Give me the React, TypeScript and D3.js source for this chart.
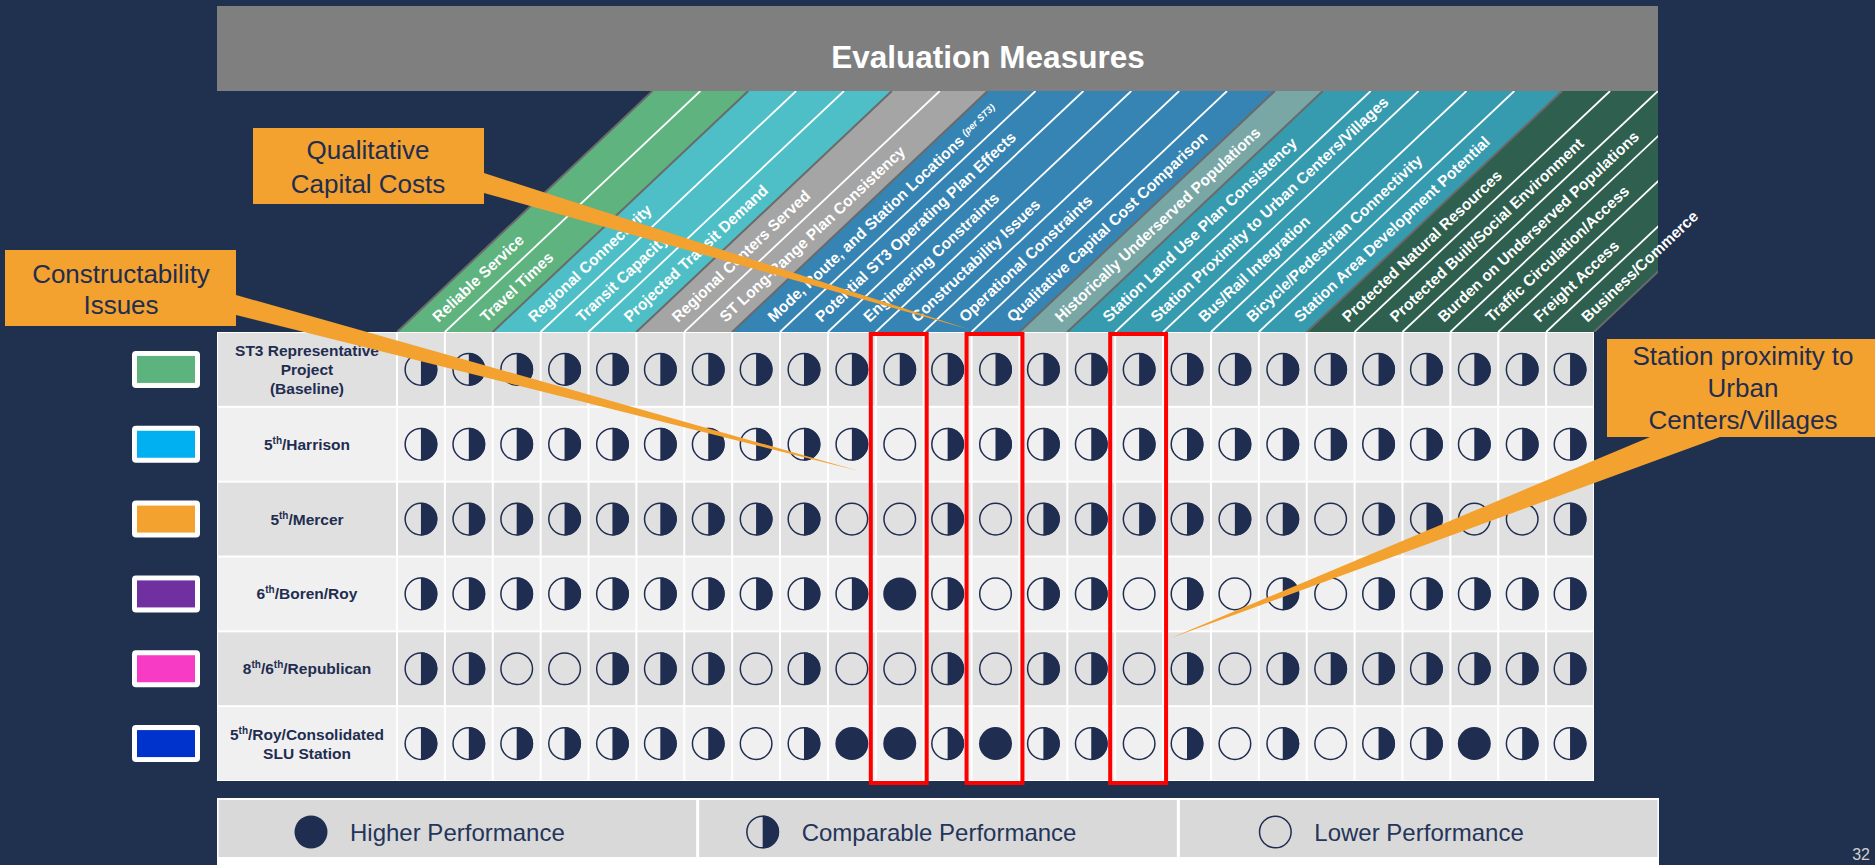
import React from 'react';
import * as d3 from 'd3';

// ---------- data ----------
const measures = [
  'Reliable Service',
  'Travel Times',
  'Regional Connectivity',
  'Transit Capacity',
  'Projected Transit Demand',
  'Regional Centers Served',
  'ST Long-Range Plan Consistency',
  'Mode, Route, and Station Locations',
  'Potential ST3 Operating Plan Effects',
  'Engineering Constraints',
  'Constructability Issues',
  'Operational Constraints',
  'Qualitative Capital Cost Comparison',
  'Historically Underserved Populations',
  'Station Land Use Plan Consistency',
  'Station Proximity to Urban Centers/Villages',
  'Bus/Rail Integration',
  'Bicycle/Pedestrian Connectivity',
  'Station Area Development Potential',
  'Protected Natural Resources',
  'Protected Built/Social Environment',
  'Burden on Underserved Populations',
  'Traffic Circulation/Access',
  'Freight Access',
  'Business/Commerce',
];
const measureNotes: Record<string, string> = {
  'Mode, Route, and Station Locations': '(per ST3)',
};
// which coloured band each measure sits in
const measureGroups = [0, 0, 1, 1, 1, 2, 2, 3, 3, 3, 3, 3, 3, 4, 5, 5, 5, 5, 5, 6, 6, 6, 6, 6, 6];

const alternatives = ['baseline', 'harrison', 'mercer', 'boren', 'republican', 'consolidated'];
const alternativeLabels = [
  ['ST3 Representative', 'Project', '(Baseline)'],
  ['5^th/Harrison'],
  ['5^th/Mercer'],
  ['6^th/Boren/Roy'],
  ['8^th/6^th/Republican'],
  ['5^th/Roy/Consolidated', 'SLU Station'],
];
const alternativeColors = ['#5db37e', '#00b0f0', '#f3a12f', '#7030a0', '#f73bc5', '#0033cc'];

// 2 = higher, 1 = comparable, 0 = lower performance
const ratingsBaseline = [1, 1, 1, 1, 1, 1, 1, 1, 1, 1, 1, 1, 1, 1, 1, 1, 1, 1, 1, 1, 1, 1, 1, 1, 1];
const ratingsHarrison = [1, 1, 1, 1, 1, 1, 1, 1, 1, 1, 0, 1, 1, 1, 1, 1, 1, 1, 1, 1, 1, 1, 1, 1, 1];
const ratingsMercer = [1, 1, 1, 1, 1, 1, 1, 1, 1, 0, 0, 1, 0, 1, 1, 1, 1, 1, 1, 0, 1, 1, 0, 0, 1];
const ratingsBoren = [1, 1, 1, 1, 1, 1, 1, 1, 1, 1, 2, 1, 0, 1, 1, 0, 1, 0, 1, 0, 1, 1, 1, 1, 1];
const ratingsRepublican = [1, 1, 0, 0, 1, 1, 1, 0, 1, 0, 0, 1, 0, 1, 1, 0, 1, 0, 1, 1, 1, 1, 1, 1, 1];
const ratingsConsolidated = [1, 1, 1, 1, 1, 1, 1, 0, 1, 2, 2, 1, 2, 1, 1, 0, 1, 0, 1, 0, 1, 1, 2, 1, 1];
const ratings = [
  ratingsBaseline,
  ratingsHarrison,
  ratingsMercer,
  ratingsBoren,
  ratingsRepublican,
  ratingsConsolidated,
];

const highlightedMeasures = [
  'Constructability Issues',
  'Qualitative Capital Cost Comparison',
  'Station Proximity to Urban Centers/Villages',
];

const legendRatings = [2, 1, 0];
const legendLabels = ['Higher Performance', 'Comparable Performance', 'Lower Performance'];

// ---------- layout / style ----------
const W = 1875;
const H = 865;
const FONT = '"Liberation Sans", Arial, sans-serif';
const BG = '#20304f';
const NAVY = '#1f2d50';
const ORANGE = '#f3a12f';
const groupColors = ['#5eb37e', '#4fbfc7', '#a5a5a5', '#3684b3', '#78a7a6', '#379bb0', '#2e5f4f'];

const LEFT = 217;
const RIGHT = 1658;
const GRID_L = 397;
const GRID_R = 1594;
const GRID_T = 332;
const GRID_B = 781;
const HEAD_T = 91;
const SLANT = 1.06;
const R = 15.8;
const LEGEND_CY = 832;

const callouts = [
  { lines: ['Qualitative', 'Capital Costs'], box: [253, 128, 231, 76], cx: 368, base: [159, 193], wedge: [[484, 173], [484, 193], [968, 329]] },
  { lines: ['Constructability', 'Issues'], box: [5, 250, 231, 76], cx: 121, base: [283, 314], wedge: [[236, 295], [236, 315], [859, 471]] },
  { lines: ['Station proximity to', 'Urban', 'Centers/Villages'], box: [1607, 339, 280, 98], cx: 1743, base: [365, 397, 429], wedge: [[1650, 437], [1720, 437], [1171, 638]] },
];

const halfPath = d3.arc()({ innerRadius: 0, outerRadius: R + 0.6, startAngle: 0, endAngle: Math.PI } as any) as string;

function Rating({ cx, cy, v }: { cx: number; cy: number; v: number }) {
  if (v === 2) return <circle cx={cx} cy={cy} r={R + 0.7} fill={NAVY} />;
  return (
    <g>
      <circle cx={cx} cy={cy} r={R} fill="none" stroke={NAVY} strokeWidth={1.5} />
      {v === 1 && <path d={halfPath} transform={`translate(${cx},${cy})`} fill={NAVY} />}
    </g>
  );
}

function LabelLine({ text, x, y }: { text: string; x: number; y: number }) {
  const parts = text.split('^th');
  return (
    <text x={x} y={y} textAnchor="middle" fontFamily={FONT} fontSize={15.5} fontWeight={700} fill={NAVY}>
      {parts.map((p, i) => (
        <React.Fragment key={i}>
          <tspan dy={i > 0 ? 6 : 0}>{p}</tspan>
          {i < parts.length - 1 && (
            <tspan fontSize={10} dy={-6}>
              th
            </tspan>
          )}
        </React.Fragment>
      ))}
    </text>
  );
}

export default function App() {
  const x = d3.scaleBand<string>().domain(measures).range([GRID_L, GRID_R]);
  const y = d3.scaleBand<string>().domain(alternatives).range([GRID_T, GRID_B]);
  const bw = x.bandwidth();
  const bh = y.bandwidth();
  const shift = (GRID_T - HEAD_T) * SLANT;
  const angle = (-Math.atan2(1, SLANT) * 180) / Math.PI;
  const norm = Math.sqrt(SLANT * SLANT + 1);
  const legendX = d3.scaleBand<string>().domain(legendLabels).range([LEFT, RIGHT + 1]);
  const legendIconOffset = [94, 65, 97];

  const boundaries = d3.range(measures.length + 1).map(i => {
    const xb = GRID_L + i * bw;
    const groupEdge = i === 0 || i === measures.length || measureGroups[i] !== measureGroups[i - 1];
    return { xb, groupEdge };
  });

  return (
    <svg width={W} height={H} style={{ position: 'absolute', left: 0, top: 0, display: 'block' }}>
      <defs>
        <clipPath id="headClip">
          <rect x={0} y={HEAD_T} width={RIGHT} height={GRID_T - HEAD_T} />
        </clipPath>
      </defs>
      <rect width={W} height={H} fill={BG} />

      {/* title bar */}
      <rect x={LEFT} y={6} width={RIGHT - LEFT} height={HEAD_T - 6} fill="#7f7f7f" />
      <text x={988} y={68} textAnchor="middle" fontFamily={FONT} fontSize={31.5} fontWeight={700} fill="#fff">
        Evaluation Measures
      </text>

      {/* slanted header bands */}
      <g clipPath="url(#headClip)">
        {measures.map((m, i) => {
          const xl = x(m)!;
          const xr = xl + bw;
          const pts = [[xl, GRID_T], [xr, GRID_T], [xr + shift, HEAD_T], [xl + shift, HEAD_T]];
          return <polygon key={m} points={pts.map(p => p.join(',')).join(' ')} fill={groupColors[measureGroups[i]]} stroke={groupColors[measureGroups[i]]} strokeWidth={0.6} />;
        })}
        {boundaries
          .slice()
          .sort((a, b) => Number(a.groupEdge) - Number(b.groupEdge))
          .map(b => (
            <line
              key={b.xb}
              x1={b.xb}
              y1={GRID_T}
              x2={b.xb + shift}
              y2={HEAD_T}
              stroke={b.groupEdge ? '#6a6a6a' : '#fff'}
              strokeWidth={b.groupEdge ? 2 : 1.8}
            />
          ))}
      </g>
      {measures.map(m => {
        const cx = x(m)! + bw / 2;
        const d = 19;
        const px = cx + (d * SLANT) / norm;
        const py = GRID_T - d / norm;
        return (
          <text
            key={m}
            transform={`translate(${px},${py}) rotate(${angle})`}
            dy="0.35em"
            fontFamily={FONT}
            fontSize={15.5}
            fontWeight={700}
            fill="#fff"
          >
            {m}
            {measureNotes[m] && (
              <tspan fontSize={9.5} fontStyle="italic" dx={4} dy={-4}>
                {measureNotes[m]}
              </tspan>
            )}
          </text>
        );
      })}

      {/* grid */}
      <rect x={LEFT} y={GRID_T} width={GRID_R - LEFT} height={GRID_B - GRID_T} fill="#fff" />
      {alternatives.map((a, r) => {
        const fill = r % 2 === 0 ? '#e0e0e0' : '#f0f0f0';
        const yy = y(a)!;
        const cy = yy + bh / 2;
        const lines = alternativeLabels[r];
        return (
          <g key={a}>
            <rect x={LEFT + 1} y={yy + 1} width={GRID_L - LEFT - 2} height={bh - 2} fill={fill} />
            {lines.map((t, li) => (
              <LabelLine key={li} text={t} x={(LEFT + GRID_L) / 2} y={cy + (li - (lines.length - 1) / 2) * 19 + 5.5} />
            ))}
            {measures.map(m => (
              <rect key={m} x={x(m)! + 1} y={yy + 1} width={bw - 2} height={bh - 2} fill={fill} />
            ))}
            {measures.map((m, c) => (
              <Rating key={m} cx={x(m)! + bw / 2} cy={cy} v={ratings[r][c]} />
            ))}
            {/* colour key swatch */}
            <rect x={132} y={cy - 18.5} width={68} height={37} rx={4} fill="#fff" />
            <rect x={137} y={cy - 13.5} width={58} height={27} fill={alternativeColors[r]} />
          </g>
        );
      })}

      {/* highlighted measures */}
      {highlightedMeasures.map(m => (
        <rect key={m} x={x(m)! - 5} y={GRID_T + 2} width={bw + 8} height={GRID_B - GRID_T} fill="none" stroke="#ff0000" strokeWidth={4} />
      ))}

      {/* legend */}
      <rect x={LEFT} y={798} width={RIGHT - LEFT + 1} height={H - 798} fill="#fff" />
      {legendLabels.map((l, i) => {
        const lx = legendX(l)!;
        const lw = legendX.bandwidth();
        const icx = lx + legendIconOffset[i];
        return (
          <g key={l}>
            <rect x={lx + 1.5} y={800} width={lw - 3} height={57} fill="#d9d9d9" />
            <Rating cx={icx} cy={LEGEND_CY} v={legendRatings[i]} />
            <text x={icx + 39} y={LEGEND_CY + 8.5} fontFamily={FONT} fontSize={24} fill="#253559">
              {l}
            </text>
          </g>
        );
      })}

      {/* callouts */}
      {callouts.map((c, i) => (
        <g key={i}>
          <polygon points={c.wedge.map(p => p.join(',')).join(' ')} fill={ORANGE} />
          <rect x={c.box[0]} y={c.box[1]} width={c.box[2]} height={c.box[3]} fill={ORANGE} />
          {c.lines.map((t, li) => (
            <text key={li} x={c.cx} y={c.base[li]} textAnchor="middle" fontFamily={FONT} fontSize={26} fill={NAVY}>
              {t}
            </text>
          ))}
        </g>
      ))}

      <text x={1870} y={860} textAnchor="end" fontFamily={FONT} fontSize={16} fill="#d0d0d0">
        32
      </text>
    </svg>
  );
}
